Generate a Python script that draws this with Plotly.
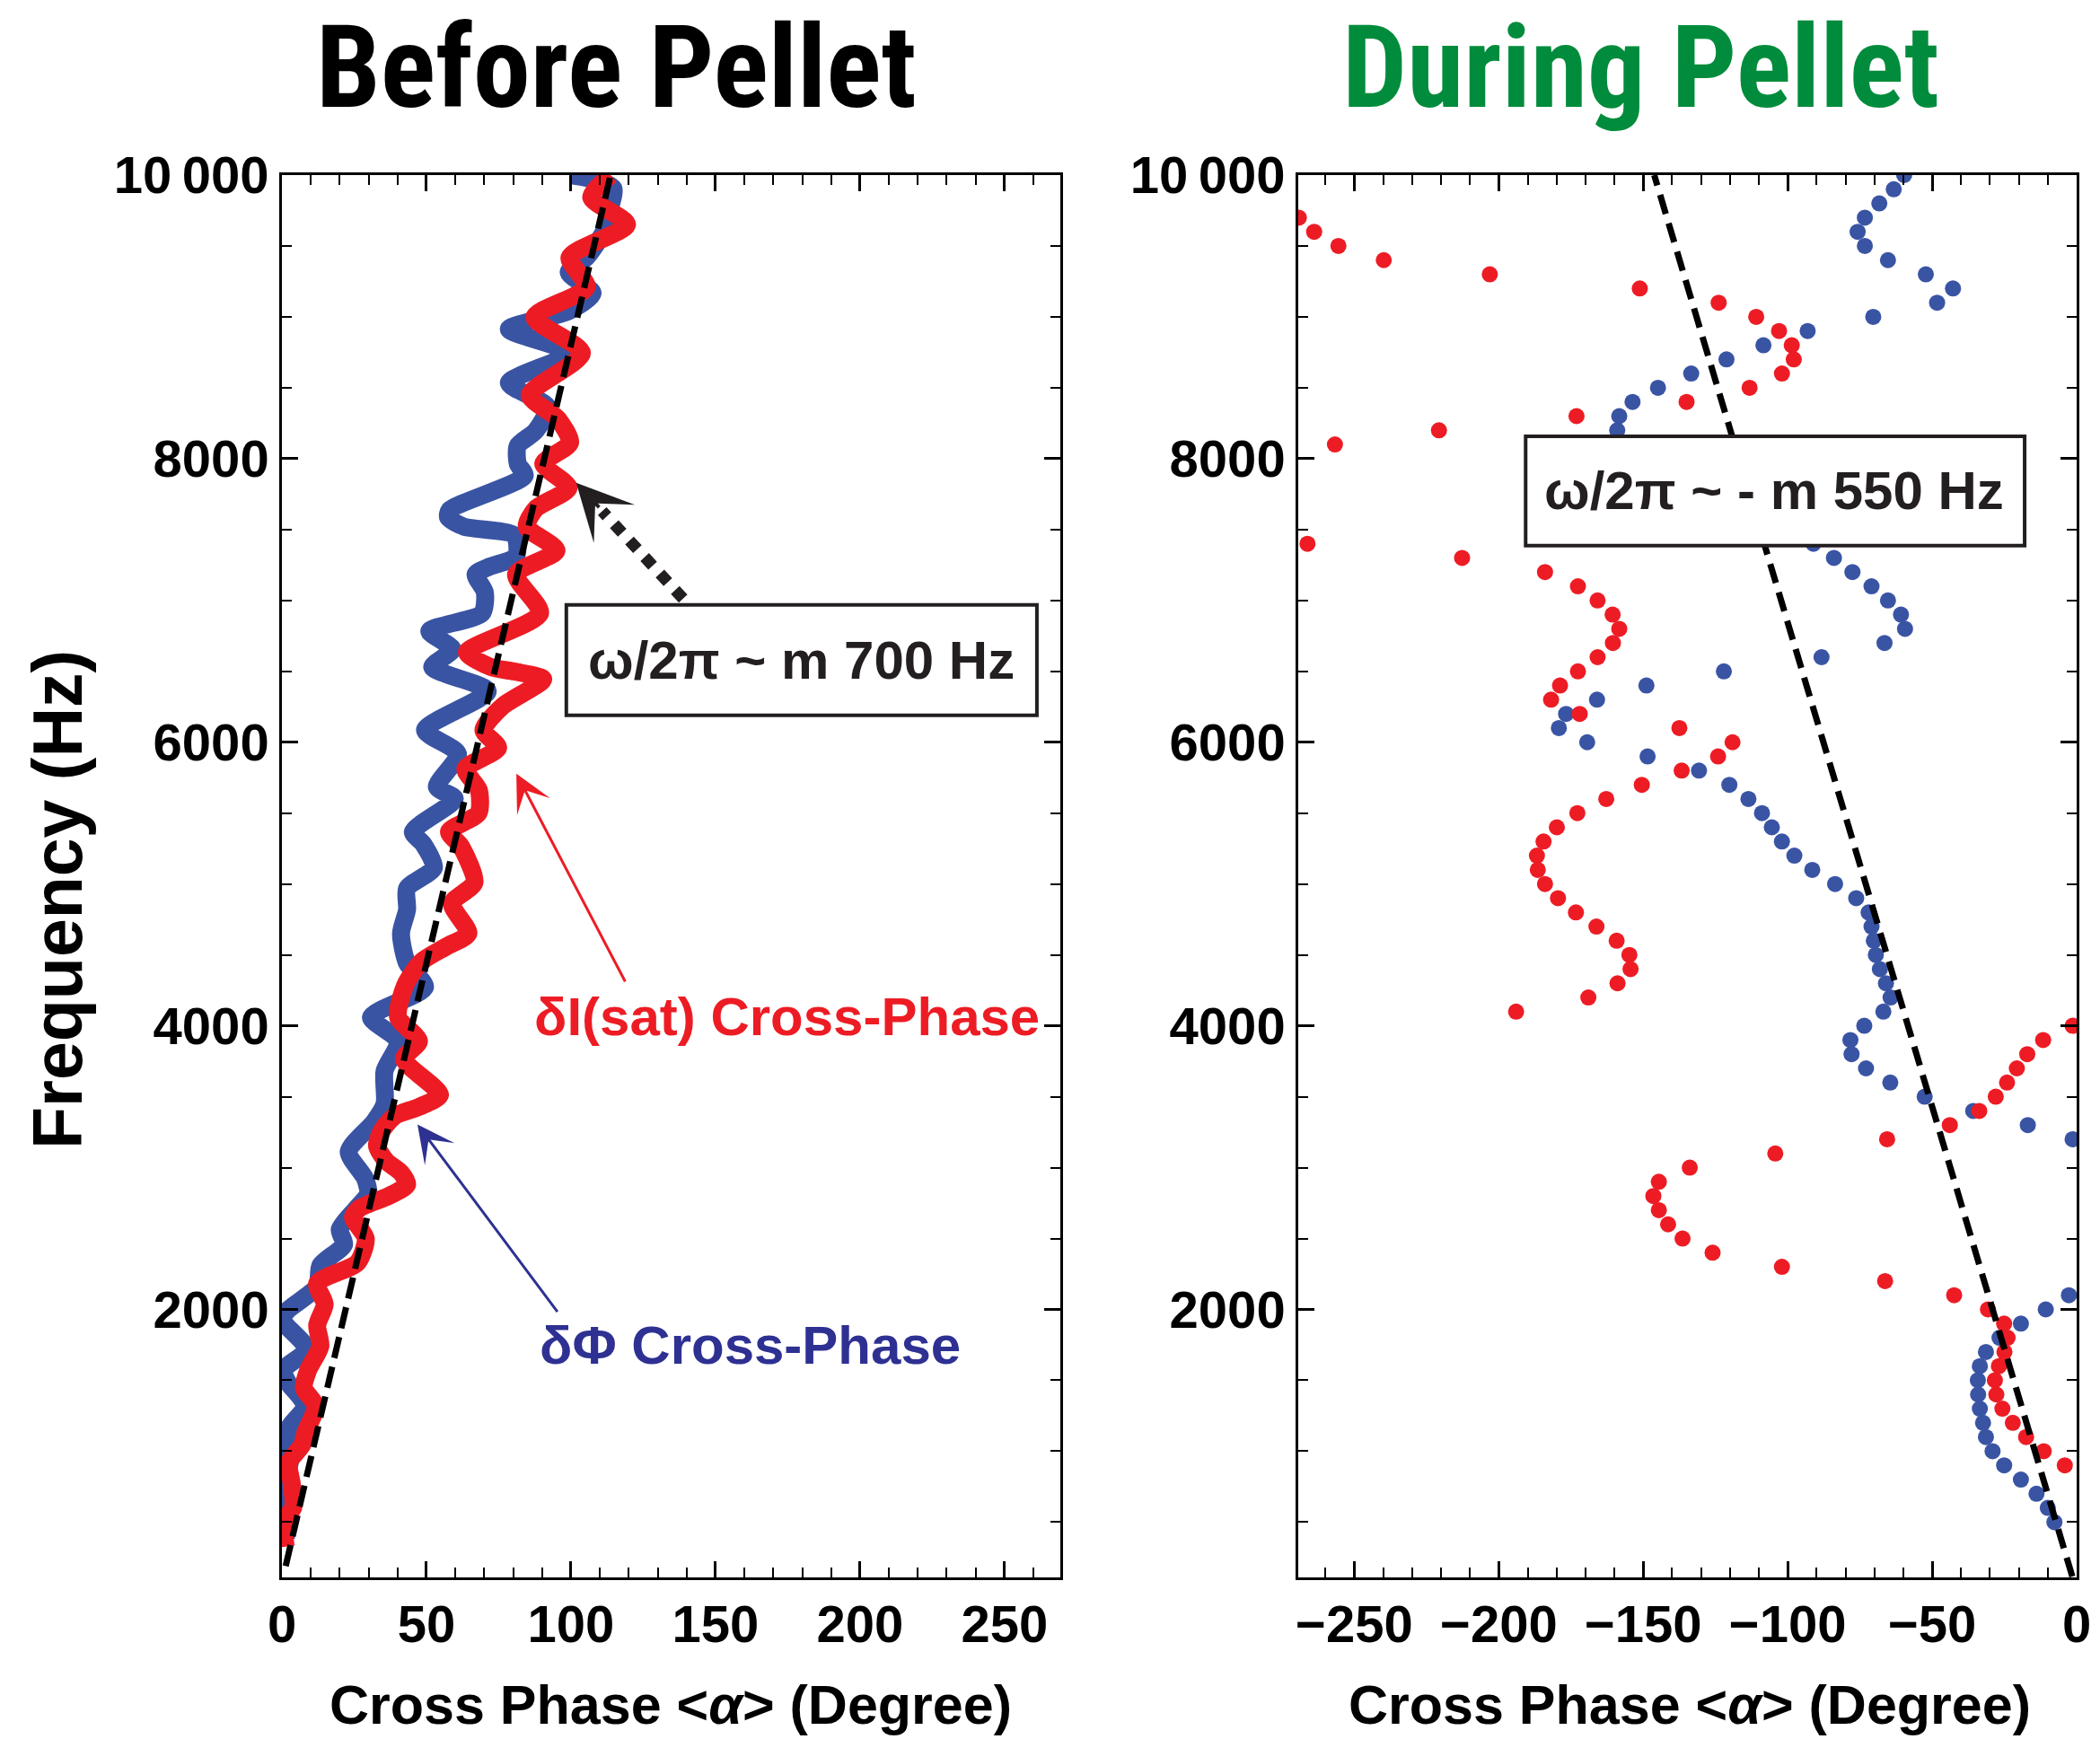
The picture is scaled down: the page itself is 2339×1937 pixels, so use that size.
import plotly.graph_objects as go

# ---------------- Before pellet: cross-phase spectra ----------------
# frequency (Hz) and cross phase (degrees) for the potential (dPhi) signal
phi_before_freq = [10000, 9960, 9905, 9736, 9610, 9420, 9314, 9167, 9040, 8913,
                   8745, 8534, 8365, 8196, 8091, 7964, 7880, 7637, 7585, 7521,
                   7458, 7310, 7240, 7184, 7057, 6909, 6783, 6656, 6530, 6361,
                   6086, 5918, 5685, 5601, 5369, 5280, 5116, 4969, 4820, 4652,
                   4441, 4272, 4061, 3892, 3681, 3449, 3323, 3112, 2922, 2816,
                   2711, 2564, 2458, 2310, 2163, 1994, 1930, 1720, 1572, 1487,
                   1319, 1150, 950, 854, 643, 496, 369]
phi_before_phase = [100, 110, 114.7, 113.1, 111.6, 105.4, 99.2, 107.5, 99.2, 78.5,
                    99.2, 78.5, 91.9, 87.8, 81.6, 81.6, 84, 58, 57.5, 62.9,
                    80.5, 81, 72, 67, 70.2, 69.2, 51, 59, 52, 71.2,
                    49.5, 60.9, 53.6, 59.8, 45.3, 49, 52.6, 43.3, 43.3, 41.2,
                    43.3, 49.5, 30.8, 40.2, 35.5, 35.5, 31.9, 23.1, 28.8, 29.8,
                    25.7, 20, 21.5, 13.3, 12.2, 2, 0, 8.5, 0.5, 2,
                    8, 2, 3, 2, 1.5, 0.5, 1.5]

# ion saturation current (dI_sat) signal
isat_before_freq = [10000, 9842, 9652, 9420, 9209, 8998, 8745, 8449, 8280, 8112,
                    7964, 7795, 7647, 7521, 7352, 7184, 6909, 6635, 6530, 6498,
                    6445, 6255, 6086, 5960, 5812, 5664, 5500, 5369, 5264, 5011,
                    4863, 4652, 4560, 4454, 4293, 4061, 3892, 3766, 3513, 3428,
                    3365, 3259, 3154, 3048, 2964, 2880, 2800, 2711, 2650, 2500,
                    2331, 2184, 2036, 1888, 1741, 1572, 1445, 1319, 1129, 1044,
                    918, 770, 601, 517, 327]
isat_before_phase = [113.7, 107, 119.4, 99.5, 105.4, 87.3, 103.8, 85.7, 95.5, 99.7,
                     90.4, 99.2, 87.8, 84.7, 95, 81, 89.3, 64, 72.3, 80.5,
                     90.4, 76.4, 69.7, 74.8, 63.5, 68.1, 68, 57.8, 62, 66.6,
                     58.8, 64.5, 57, 48.4, 42.8, 40.2, 47.4, 42.2, 54.7, 47.4,
                     39.1, 34.5, 32.9, 36, 41.2, 43.3, 37, 26.7, 24.6, 29,
                     26.2, 12.2, 14.8, 12.2, 13.3, 9.1, 7.6, 11.7, 8.1, 7,
                     2.4, 3.4, 3.9, 0.8, 1.3]

# ---------------- During pellet: cross-phase spectra ----------------
phi_during_freq = [10000, 9900, 9800, 9700, 9600, 9500, 9400, 9300, 9200, 9100,
                   9000, 8900, 8800, 8700, 8600, 8500, 8400, 8300, 8200,
                   7400, 7300, 7200, 7100, 7000, 6900, 6800, 6700, 6600, 6500,
                   6400, 6300, 6200, 6100, 6000, 5900, 5800, 5700, 5600, 5500,
                   5400, 5300, 5200, 5100, 5000, 4900, 4800, 4700, 4600, 4500,
                   4400, 4300, 4200, 4100, 4000, 3900, 3800, 3700, 3600, 3500,
                   3400, 3300, 3200,
                   2100, 2000, 1900, 1800, 1700, 1600, 1500, 1400, 1300, 1200,
                   1100, 1000, 900, 800, 700, 600, 500]
phi_during_phase = [-59.7, -63.3, -68.3, -73.3, -75.8, -73.3, -65.3, -52.2, -42.8, -48.3,
                    -70.4, -93.1, -108.4, -121.2, -133.4, -144.9, -153.7, -158.3, -159.0,
                    -91.1, -84.0, -77.6, -71.0, -65.3, -60.8, -59.4, -66.5, -88.3, -122.1,
                    -148.9, -166.0, -176.7, -179.2, -169.4, -148.5, -130.7, -120.2, -113.6, -108.9,
                    -105.5, -102.0, -97.7, -91.5, -83.6, -76.3, -72.0, -71.0, -70.2, -69.5,
                    -68.1, -66.0, -64.4, -66.9, -73.5, -78.3, -77.9, -72.9, -64.5, -52.6,
                    -35.8, -16.9, -1.4,
                    -2.7, -10.7, -19.3, -26.7, -31.4, -33.5, -34.2, -34.1, -33.5, -32.4,
                    -31.4, -29.1, -25.1, -19.3, -13.9, -10.0, -7.7]

isat_during_freq = [9700, 9600, 9500, 9400, 9300, 9200, 9100, 9000, 8900, 8800,
                    8700, 8600, 8500, 8400, 8300, 8200, 8100,
                    7400, 7300, 7200, 7100, 7000, 6900, 6800, 6700, 6600, 6500,
                    6400, 6300, 6200, 6100, 6000, 5900, 5800, 5700, 5600, 5500,
                    5400, 5300, 5200, 5100, 5000, 4900, 4800, 4700, 4600, 4500,
                    4400, 4300, 4200, 4100, 4000, 3900, 3800, 3700, 3600, 3500,
                    3400, 3300, 3200, 3100, 3000, 2900, 2800, 2700, 2600, 2500,
                    2400, 2300, 2200, 2100, 2000, 1900, 1800, 1700, 1600, 1500,
                    1400, 1300, 1200, 1100, 1000, 900]
isat_during_phase = [-269.2, -263.9, -255.5, -239.8, -203.1, -151.2, -123.9, -110.9, -103.0, -98.6,
                     -97.9, -102.0, -113.2, -135.0, -173.1, -220.7, -256.7,
                     -266.2, -212.7, -184.0, -172.6, -165.8, -160.6, -158.3, -160.5, -165.8, -172.6,
                     -178.8, -181.9, -172.0, -137.5, -119.1, -124.1, -136.7, -150.5, -162.8, -172.8,
                     -179.9, -184.5, -186.8, -186.5, -184.0, -179.5, -173.3, -166.2, -159.2, -154.8,
                     -154.4, -158.9, -169.0, -194.0, -1.4, -11.6, -17.1, -20.7, -24.1, -28.0,
                     -33.7, -43.9, -65.6, -104.3, -133.9, -144.6, -146.5, -144.6, -141.4, -136.4,
                     -126.0, -102.0, -66.3, -42.4, -30.7, -25.1, -23.9, -25.0, -26.9, -28.3,
                     -27.8, -25.7, -22.1, -17.5, -11.4, -4.1]

# linear dispersion fits  (phase, frequency) end points
fit_before_phase = [1.3, 113.7]
fit_before_freq = [190, 10000]
fit_during_phase = [-1.5, -146.2]
fit_during_freq = [116, 10000]

freq_ticks = [2000, 4000, 6000, 8000, 10000]
freq_ticktext = ["2000", "4000", "6000", "8000", "10\u2009000"]
phase_ticks_before = [0, 50, 100, 150, 200, 250]
phase_ticks_during = [-250, -200, -150, -100, -50, 0]

# ---------------- styling ----------------
W, H = 2339, 1937
RED = "#ED1C24"
BLUE = "#3A54A4"
NAVY = "#2E3192"
GREEN = "#008C3C"
INK = "#231F20"
FONT = "Liberation Sans, Arial, Helvetica, sans-serif"
NARROW = ("Roboto Condensed, Liberation Sans Narrow, Noto Sans Condensed, "
          "Open Sans Condensed, Arial Narrow, DejaVu Sans Condensed, sans-serif")


def px_x(p):
    return p / W


def px_y(p):
    return 1 - p / H


fig = go.Figure()

# left panel: dense cross-phase curves
fig.add_trace(go.Scatter(x=phi_before_phase, y=phi_before_freq, mode="lines",
                         line=dict(color=BLUE, width=20, shape="spline", smoothing=0.7),
                         xaxis="x", yaxis="y", hoverinfo="skip"))
fig.add_trace(go.Scatter(x=isat_before_phase, y=isat_before_freq, mode="lines",
                         line=dict(color=RED, width=20, shape="spline", smoothing=0.7),
                         xaxis="x", yaxis="y", hoverinfo="skip"))
fig.add_trace(go.Scatter(x=fit_before_phase, y=fit_before_freq, mode="lines",
                         line=dict(color="black", width=7, dash="24px,10px"),
                         xaxis="x", yaxis="y", hoverinfo="skip"))

# right panel: individual spectral points
fig.add_trace(go.Scatter(x=phi_during_phase, y=phi_during_freq, mode="markers",
                         marker=dict(color=BLUE, size=18, line=dict(width=0)),
                         xaxis="x2", yaxis="y2", hoverinfo="skip"))
fig.add_trace(go.Scatter(x=isat_during_phase, y=isat_during_freq, mode="markers",
                         marker=dict(color=RED, size=18, line=dict(width=0)),
                         xaxis="x2", yaxis="y2", hoverinfo="skip"))
fig.add_trace(go.Scatter(x=fit_during_phase, y=fit_during_freq, mode="lines",
                         line=dict(color="black", width=7, dash="22px,11px"),
                         xaxis="x2", yaxis="y2", hoverinfo="skip"))

tickfont = dict(family=FONT, size=58, color="black", weight="bold")


def axis_style(**kw):
    d = dict(showline=True, linecolor="black", linewidth=2.5, mirror="ticks",
             ticks="inside", ticklen=18, tickwidth=2.5, tickcolor="black",
             showgrid=False, zeroline=False, tickfont=tickfont, automargin=False,
             minor=dict(ticks="inside", ticklen=11, tickwidth=2, tickcolor="black",
                        showgrid=False))
    d.update(kw)
    return d


x_dom_left = [px_x(314), px_x(1181)]
x_dom_right = [px_x(1446), px_x(2313)]
y_dom = [px_y(1757), px_y(195)]

fig.update_layout(
    width=W, height=H, margin=dict(l=0, r=0, t=0, b=0, autoexpand=False),
    paper_bgcolor="white", plot_bgcolor="white", showlegend=False,
    xaxis=axis_style(domain=x_dom_left, range=[0, 269.3], anchor="y",
                     tickvals=phase_ticks_before, ticklabelstandoff=0),
    xaxis2=axis_style(domain=x_dom_right, range=[-269.4, 0], anchor="y2",
                      tickvals=phase_ticks_during, ticklabelstandoff=0),
    yaxis=axis_style(domain=y_dom, range=[110, 10000], anchor="x",
                     tickvals=freq_ticks, ticktext=freq_ticktext, ticklabelstandoff=0),
    yaxis2=axis_style(domain=y_dom, range=[110, 10000], anchor="x2",
                      tickvals=freq_ticks, ticktext=freq_ticktext, ticklabelstandoff=0),
)
fig.layout.xaxis.minor.dtick = 10
fig.layout.xaxis2.minor.dtick = 10
fig.layout.xaxis2.minor.tick0 = 0
fig.layout.yaxis.minor.dtick = 500
fig.layout.yaxis2.minor.dtick = 500

shapes = [
    # label boxes
    dict(type="rect", xref="x", yref="y", x0=98.4, x1=261.2, y0=6190, y1=6968,
         line=dict(color=INK, width=4), fillcolor="white", layer="above"),
    dict(type="rect", xref="x2", yref="y2", x0=-190.7, x1=-18.0, y0=7386, y1=8158,
         line=dict(color=INK, width=4), fillcolor="white", layer="above"),
    # dotted leader from the box towards the fitted line
    dict(type="line", xref="x", yref="y", x0=138.8, y0=7013, x1=110.8, y1=7630,
         line=dict(color=INK, width=13, dash="13px,12px"), layer="above"),
]
fig.update_layout(shapes=shapes)

annotations = [
    dict(text="Before Pellet", x=px_x(686), y=px_y(75), xref="paper", yref="paper",
         showarrow=False, xanchor="center", yanchor="middle",
         font=dict(family=NARROW, size=128, color="black", weight="bold")),
    dict(text="During Pellet", x=px_x(1827), y=px_y(75), xref="paper", yref="paper",
         showarrow=False, xanchor="center", yanchor="middle",
         font=dict(family=NARROW, size=128, color=GREEN, weight="bold")),
    dict(text="Cross Phase &lt;<i>α</i>&gt; (Degree)", x=px_x(747), y=px_y(1899),
         xref="paper", yref="paper", showarrow=False, xanchor="center", yanchor="middle",
         font=dict(family=FONT, size=61, color="black", weight="bold")),
    dict(text="Cross Phase &lt;<i>α</i>&gt; (Degree)", x=px_x(1882), y=px_y(1899),
         xref="paper", yref="paper", showarrow=False, xanchor="center", yanchor="middle",
         font=dict(family=FONT, size=61, color="black", weight="bold")),
    dict(text="Frequency (Hz)", x=px_x(64), y=px_y(1002), xref="paper", yref="paper",
         showarrow=False, xanchor="center", yanchor="middle", textangle=-90,
         font=dict(family=FONT, size=77, color="black", weight="bold")),
    # box texts
    dict(text="ω/2π ~ m 700 Hz", x=179.8, y=6579, xref="x", yref="y", showarrow=False,
         xanchor="center", yanchor="middle",
         font=dict(family=FONT, size=60, color=INK, weight="bold")),
    dict(text="ω/2π ~ - m 550 Hz", x=-104.7, y=7772, xref="x2", yref="y2", showarrow=False,
         xanchor="center", yanchor="middle",
         font=dict(family=FONT, size=60, color=INK, weight="bold")),
    # curve labels
    dict(text="δI(sat) Cross-Phase", x=174.8, y=4061, xref="x", yref="y", showarrow=False,
         xanchor="center", yanchor="middle",
         font=dict(family=FONT, size=60, color=RED, weight="bold")),
    dict(text="δΦ Cross-Phase", x=162.0, y=1747, xref="x", yref="y", showarrow=False,
         xanchor="center", yanchor="middle",
         font=dict(family=FONT, size=60, color=NAVY, weight="bold")),
    # arrows
    dict(text="", x=81.1, y=5778, xref="x", yref="y", ax=122, ay=233, showarrow=True,
         arrowhead=3, arrowsize=2.3, arrowwidth=3, arrowcolor=RED, standoff=0),
    dict(text="", x=46.9, y=3304, xref="x", yref="y", ax=157, ay=210, showarrow=True,
         arrowhead=3, arrowsize=2.3, arrowwidth=3, arrowcolor=NAVY, standoff=0),
    dict(text="", x=101.8, y=7830, xref="x", yref="y", ax=27, ay=29, showarrow=True,
         arrowhead=3, arrowsize=2.6, arrowwidth=4, arrowcolor=INK, standoff=0),
]
fig.update_layout(annotations=annotations)

fig.write_html("out.html")
